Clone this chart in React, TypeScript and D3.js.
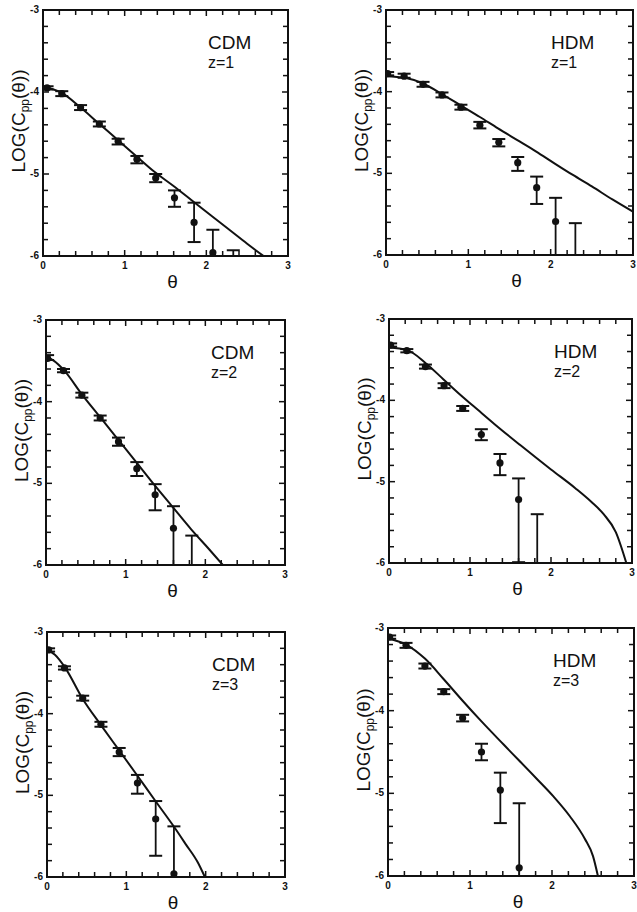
import React from 'react';
import * as d3 from 'd3';

// ---- Data ----
const THETA = [0.02, 0.22, 0.45, 0.68, 0.91, 1.14, 1.37, 1.6, 1.83, 2.06, 2.3];
const THETA_P1 = [0.05, 0.23, 0.46, 0.69, 0.92, 1.15, 1.38, 1.61, 1.85, 2.08, 2.33];

const X_TICK_LABELS = ['0', '1', '2', '3'];
const Y_TICK_LABELS = ['-3', '-4', '-5', '-6'];
const MODELS = ['CDM', 'HDM', 'CDM', 'HDM', 'CDM', 'HDM'];
const REDSHIFTS = ['z=1', 'z=1', 'z=2', 'z=2', 'z=3', 'z=3'];

// CDM z=1
const cdm1Val = [-3.95, -4.02, -4.19, -4.39, -4.6, -4.82, -5.05, -5.29, -5.59, -5.96, null];
const cdm1Lo = [-3.97, -4.05, -4.22, -4.42, -4.64, -4.87, -5.1, -5.4, -5.83, -6.5, -6.5];
const cdm1Hi = [-3.93, -3.99, -4.16, -4.36, -4.57, -4.78, -5.0, -5.2, -5.35, -5.68, -5.93];
const cdm1CurveT = [0, 0.1, 0.23, 0.45, 0.68, 0.91, 1.14, 1.36, 1.59, 1.82, 2.05, 2.27, 2.5, 2.7];
const cdm1CurveV = [-3.93, -3.96, -4.01, -4.18, -4.38, -4.58, -4.78, -4.97, -5.14, -5.32, -5.5, -5.67, -5.85, -6.0];

// HDM z=1
const hdm1Val = [-3.78, -3.81, -3.91, -4.04, -4.19, -4.41, -4.62, -4.87, -5.175, -5.59, null];
const hdm1Lo = [-3.8, -3.83, -3.94, -4.07, -4.22, -4.45, -4.67, -4.97, -5.375, -6.5, -6.5];
const hdm1Hi = [-3.76, -3.78, -3.88, -4.01, -4.16, -4.37, -4.58, -4.8, -5.04, -5.3, -5.61];
const hdm1CurveT = [0, 0.23, 0.45, 0.68, 0.91, 1.14, 1.36, 1.59, 1.82, 2.05, 2.27, 2.5, 2.75, 3.0];
const hdm1CurveV = [-3.81, -3.83, -3.9, -4.03, -4.17, -4.31, -4.45, -4.59, -4.73, -4.88, -5.02, -5.16, -5.32, -5.47];

// CDM z=2
const cdm2Val = [-3.47, -3.62, -3.92, -4.2, -4.49, -4.82, -5.14, -5.55, null];
const cdm2Lo = [-3.49, -3.64, -3.95, -4.23, -4.54, -4.91, -5.33, -6.5, -6.5];
const cdm2Hi = [-3.43, -3.6, -3.89, -4.17, -4.44, -4.74, -5.01, -5.28, -5.64];
const cdm2CurveT = [0, 0.1, 0.23, 0.45, 0.68, 0.91, 1.14, 1.36, 1.59, 1.82, 2.05, 2.22];
const cdm2CurveV = [-3.45, -3.5, -3.62, -3.91, -4.19, -4.47, -4.75, -5.02, -5.29, -5.56, -5.81, -6.0];

// HDM z=2
const hdm2Val = [-3.32, -3.39, -3.585, -3.82, -4.1, -4.42, -4.77, -5.22, null];
const hdm2Lo = [-3.34, -3.41, -3.61, -3.85, -4.13, -4.49, -4.92, -5.99, -6.5];
const hdm2Hi = [-3.3, -3.37, -3.56, -3.79, -4.07, -4.355, -4.66, -4.96, -5.4];
const hdm2CurveT = [0, 0.22, 0.45, 0.67, 0.89, 1.1, 1.3, 1.62, 2.0, 2.3, 2.5, 2.65, 2.8, 2.93];
const hdm2CurveV = [-3.35, -3.38, -3.54, -3.74, -3.94, -4.12, -4.29, -4.55, -4.85, -5.08, -5.25, -5.4, -5.62, -6.0];

// CDM z=3
const cdm3Val = [-3.22, -3.44, -3.81, -4.13, -4.47, -4.85, -5.29, -5.96];
const cdm3Lo = [-3.24, -3.46, -3.84, -4.16, -4.52, -4.98, -5.74, -6.5];
const cdm3Hi = [-3.2, -3.42, -3.78, -4.1, -4.42, -4.75, -5.07, -5.38];
const cdm3CurveT = [0, 0.1, 0.23, 0.45, 0.68, 0.91, 1.14, 1.36, 1.59, 1.75, 1.9, 1.99];
const cdm3CurveV = [-3.22, -3.28, -3.44, -3.82, -4.14, -4.45, -4.76, -5.06, -5.37, -5.6, -5.82, -6.0];

// HDM z=3
const hdm3Val = [-3.11, -3.21, -3.46, -3.77, -4.09, -4.5, -4.96, -5.9];
const hdm3Lo = [-3.13, -3.24, -3.49, -3.8, -4.13, -4.6, -5.36, -6.5];
const hdm3Hi = [-3.09, -3.18, -3.43, -3.74, -4.05, -4.4, -4.75, -5.12];
const hdm3CurveT = [0, 0.22, 0.45, 0.68, 0.91, 1.14, 1.41, 1.81, 2.02, 2.22, 2.4, 2.5, 2.56];
const hdm3CurveV = [-3.13, -3.2, -3.37, -3.62, -3.88, -4.13, -4.41, -4.82, -5.04, -5.28, -5.55, -5.76, -6.0];

const SERIES = [
  { th: THETA_P1, val: cdm1Val, lo: cdm1Lo, hi: cdm1Hi, ct: cdm1CurveT, cv: cdm1CurveV },
  { th: THETA, val: hdm1Val, lo: hdm1Lo, hi: hdm1Hi, ct: hdm1CurveT, cv: hdm1CurveV },
  { th: THETA, val: cdm2Val, lo: cdm2Lo, hi: cdm2Hi, ct: cdm2CurveT, cv: cdm2CurveV },
  { th: THETA, val: hdm2Val, lo: hdm2Lo, hi: hdm2Hi, ct: hdm2CurveT, cv: hdm2CurveV },
  { th: THETA, val: cdm3Val, lo: cdm3Lo, hi: cdm3Hi, ct: cdm3CurveT, cv: cdm3CurveV },
  { th: THETA, val: hdm3Val, lo: hdm3Lo, hi: hdm3Hi, ct: hdm3CurveT, cv: hdm3CurveV },
];

// ---- Layout ----
const LAYOUT = [
  { left: 43, right: 288, top: 10, bottom: 256 },
  { left: 386, right: 633, top: 10, bottom: 255 },
  { left: 46, right: 285, top: 320, bottom: 565 },
  { left: 389, right: 632, top: 319, bottom: 563 },
  { left: 47, right: 285, top: 632, bottom: 877 },
  { left: 388, right: 634, top: 628, bottom: 876 },
];

const FONT = "'Liberation Sans', Arial, Helvetica, sans-serif";

function Panel({ idx }: { idx: number }) {
  const L = LAYOUT[idx];
  const S = SERIES[idx];
  const x = d3.scaleLinear().domain([0, 3]).range([L.left, L.right]);
  const y = d3.scaleLinear().domain([-6, -3]).range([L.bottom, L.top]);
  const curvePts: [number, number][] = S.ct.map((t, i) => [t, S.cv[i]]);
  const lineGen = d3
    .line<[number, number]>()
    .x((d) => x(d[0]))
    .y((d) => y(d[1]))
    .curve(d3.curveMonotoneX);
  const xMinor = d3.range(1, 15).map((i) => i * 0.2);
  const yMinor = d3.range(1, 15).map((i) => -6 + i * 0.2);
  const clipId = `clip-${idx}`;
  const capW = 6.5;
  const cx = (L.left + L.right) / 2;
  const cy = (L.top + L.bottom) / 2;
  const isMajor = (v: number) => Math.abs(v - Math.round(v)) < 1e-6;

  return (
    <g>
      <defs>
        <clipPath id={clipId}>
          <rect x={L.left} y={L.top} width={L.right - L.left} height={L.bottom - L.top} />
        </clipPath>
      </defs>
      <g clipPath={`url(#${clipId})`}>
        <path d={lineGen(curvePts) || ''} fill="none" stroke="#111" strokeWidth={2} />
        {S.val.map((v, i) => {
          const px = x(S.th[i]);
          const ylo = y(S.lo[i]);
          const yhi = y(S.hi[i]);
          return (
            <g key={i}>
              <line x1={px} x2={px} y1={ylo} y2={yhi} stroke="#111" strokeWidth={1.8} />
              <line x1={px - capW} x2={px + capW} y1={yhi} y2={yhi} stroke="#111" strokeWidth={2} />
              <line x1={px - capW} x2={px + capW} y1={ylo} y2={ylo} stroke="#111" strokeWidth={2} />
              {v !== null && <circle cx={px} cy={y(v)} r={3.6} fill="#111" />}
            </g>
          );
        })}
      </g>
      {/* ticks */}
      {xMinor.map((t) => {
        const len = isMajor(t) ? 6 : 5;
        return (
          <g key={`xt${t}`}>
            <line x1={x(t)} x2={x(t)} y1={L.bottom} y2={L.bottom - len} stroke="#111" strokeWidth={1.5} />
            <line x1={x(t)} x2={x(t)} y1={L.top} y2={L.top + len} stroke="#111" strokeWidth={1.5} />
          </g>
        );
      })}
      {yMinor.map((t) => {
        const len = isMajor(t) ? 6 : 5;
        return (
          <g key={`yt${t}`}>
            <line x1={L.left} x2={L.left + len} y1={y(t)} y2={y(t)} stroke="#111" strokeWidth={1.5} />
            <line x1={L.right} x2={L.right - len} y1={y(t)} y2={y(t)} stroke="#111" strokeWidth={1.5} />
          </g>
        );
      })}
      <rect
        x={L.left}
        y={L.top}
        width={L.right - L.left}
        height={L.bottom - L.top}
        fill="none"
        stroke="#111"
        strokeWidth={2}
      />
      {/* tick labels */}
      {X_TICK_LABELS.map((lab) => (
        <text
          key={`xl${lab}`}
          x={x(+lab)}
          y={L.bottom + 13}
          textAnchor="middle"
          fontFamily={FONT}
          fontWeight="bold"
          fontSize={10}
          fill="#111"
        >
          {lab}
        </text>
      ))}
      {Y_TICK_LABELS.map((lab) => (
        <text
          key={`yl${lab}`}
          x={L.left - 4}
          y={y(+lab) + 3}
          textAnchor="end"
          fontFamily={FONT}
          fontWeight="bold"
          fontSize={10}
          fill="#111"
        >
          {lab}
        </text>
      ))}
      {/* axis titles */}
      <text x={cx + 7} y={L.bottom + 32} textAnchor="middle" fontFamily={FONT} fontSize={19} fill="#111">
        θ
      </text>
      <text
        transform="rotate(-90)"
        x={-(cy - 12)}
        y={L.left - 18}
        textAnchor="middle"
        fontFamily={FONT}
        fontSize={19}
        fill="#111"
      >
        LOG(C
        <tspan fontSize={12} dy={4}>
          pp
        </tspan>
        <tspan dy={-4}>(θ))</tspan>
      </text>
      {/* model label */}
      <text x={L.left + 165} y={L.top + 39} fontFamily={FONT} fontSize={19} fill="#111">
        {MODELS[idx]}
      </text>
      <text x={L.left + 165} y={L.top + 58} fontFamily={FONT} fontSize={16} fill="#111">
        {REDSHIFTS[idx]}
      </text>
    </g>
  );
}

export default function App() {
  return (
    <svg
      width={637}
      height={912}
      viewBox="0 0 637 912"
      style={{ position: 'absolute', left: 0, top: 0, background: '#fff' }}
    >
      <rect x={0} y={0} width={637} height={912} fill="#fff" />
      {LAYOUT.map((_, i) => (
        <Panel key={i} idx={i} />
      ))}
    </svg>
  );
}
